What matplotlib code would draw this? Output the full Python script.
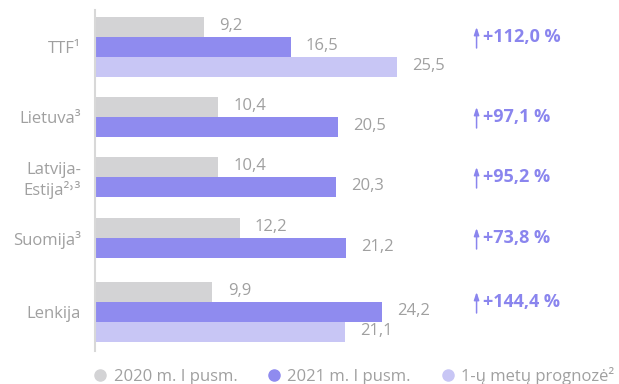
import numpy as np
import matplotlib
matplotlib.use("Agg")
import matplotlib.pyplot as plt

plt.rcParams['font.family'] = ['Open Sans', 'DejaVu Sans']

# data
categories = ['TTF¹', 'Lietuva³', 'Latvija-\nEstija²˒³', 'Suomija³', 'Lenkija']
h1_2020 = [9.2, 10.4, 10.4, 12.2, 9.9]
h1_2021 = [16.5, 20.5, 20.3, 21.2, 24.2]
forecast = [25.5, None, None, None, 21.1]
changes = ['+112,0 %', '+97,1 %', '+95,2 %', '+73,8 %', '+144,4 %']
series_names = ['2020 m. I pusm.', '2021 m. I pusm.', '1-ų metų prognozė²']

c_gray = '#d3d3d5'
c_dark = '#8f8bef'
c_light = '#c8c6f5'
c_text = '#a0a0a0'
c_pct = '#8a85ee'

# top of each group's first bar, in bar-height units
group_pos = np.array([0, 4, 7, 10.05, 13.25])
bar_h = 1.0

fig = plt.figure(figsize=(6.19, 3.84), dpi=100)
ax = fig.add_axes([95 / 619, 1 - 351 / 384, 1 - 95 / 619, 341 / 384])

def fmt(v):
    return f"{v:.1f}".replace('.', ',')

label_pad = 1.3
centers = []
for i, g in enumerate(group_pos):
    ax.barh(g, h1_2020[i], height=bar_h, color=c_gray)
    ax.text(h1_2020[i] + label_pad, g - 0.05, fmt(h1_2020[i]), va='center', ha='left',
            fontsize=12, color=c_text)
    ax.barh(g + 1, h1_2021[i], height=bar_h, color=c_dark)
    ax.text(h1_2021[i] + label_pad, g + 0.95, fmt(h1_2021[i]), va='center', ha='left',
            fontsize=12, color=c_text)
    n = 2
    if forecast[i] is not None:
        ax.barh(g + 2, forecast[i], height=bar_h, color=c_light)
        ax.text(forecast[i] + label_pad, g + 1.95, fmt(forecast[i]), va='center', ha='left',
                fontsize=12, color=c_text)
        n = 3
    centers.append(g + (n - 1) / 2)

    # change arrow + percentage
    y_mid = g + 0.5
    ax.annotate('', xy=(32.2, y_mid - 0.5), xytext=(32.2, y_mid + 0.55),
                arrowprops=dict(arrowstyle='-|>,head_length=0.45,head_width=0.15',
                                color=c_pct, lw=1.1, shrinkA=0, shrinkB=0))
    ax.text(32.75, y_mid, changes[i], va='center', ha='left', fontsize=13,
            color=c_pct, fontweight='bold')

ax.set_yticks(centers)
ax.set_yticklabels(categories, fontsize=12, color=c_text, linespacing=1.2)
ax.tick_params(axis='y', length=0, pad=10)
ax.set_xticks([])
ax.set_xlim(0, 524 / 11.85)
ax.set_ylim(16.2, -0.85)
for s in ['top', 'right', 'bottom']:
    ax.spines[s].set_visible(False)
ax.spines['left'].set_color('#d8d8d8')
ax.spines['left'].set_linewidth(1.5)

handles = [plt.Line2D([], [], marker='o', linestyle='', markersize=8, color=c)
           for c in (c_gray, c_dark, c_light)]
fig.legend(handles, series_names, loc='center left', bbox_to_anchor=(92 / 619, 1 - 376 / 384),
           ncol=3, frameon=False, fontsize=12, labelcolor=c_text, handletextpad=0.3,
           columnspacing=1.7, handlelength=1.0, borderpad=0, borderaxespad=0)

fig.savefig('out.png', dpi=100)
